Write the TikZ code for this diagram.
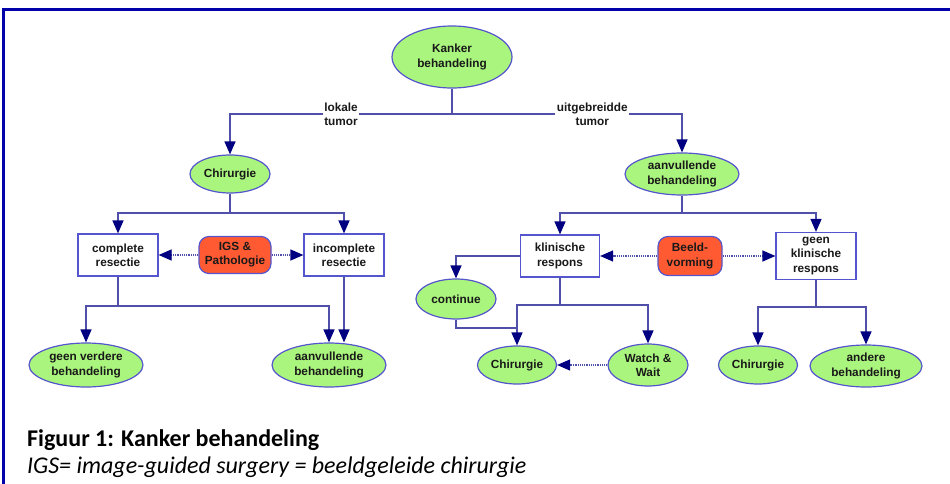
\documentclass[tikz,border=0pt]{standalone}
\usepackage{fontspec}
\setmainfont{Liberation Sans}
\newfontfamily\capfont{Carlito}
\usetikzlibrary{arrows.meta,shapes.geometric}
\definecolor{fillgreen}{RGB}{170,245,125}
\definecolor{edgeblue}{RGB}{85,85,205}
\definecolor{linec}{RGB}{80,80,170}
\definecolor{navyc}{RGB}{0,0,128}
\definecolor{redbox}{RGB}{255,90,50}
\definecolor{framec}{RGB}{0,0,170}
\begin{document}
\begin{tikzpicture}[x=1pt,y=-1pt,
 every node/.style={font=\fontsize{11.8}{14.2}\selectfont\bfseries, align=center, text=black!90},
 ell/.style={ellipse, draw=edgeblue, fill=fillgreen, line width=1.2pt, inner sep=0pt},
 boxn/.style={rectangle, draw=edgeblue, fill=white, line width=1.2pt, inner sep=0pt},
 redn/.style={rectangle, rounded corners=10pt, draw=edgeblue, fill=redbox, line width=1.2pt, inner sep=0pt},
 conn/.style={draw=linec, line width=1.3pt},
 arr/.style={conn, -{Triangle[length=13pt,width=11pt,color=navyc]}},
 dotarr/.style={draw=linec, line width=1.2pt, densely dotted, -{Triangle[length=13pt,width=11pt,color=navyc]}},
 lab/.style={fill=white, inner sep=1.5pt}]
\useasboundingbox (0,0) rectangle (950,484);
% frame
\draw[framec, line width=3pt] (3,490) -- (3,9.5) -- (955,9.5);

% nodes
\node[ell, minimum width=120pt, minimum height=62pt] (kb) at (452,57) {Kanker\\behandeling};
\node[ell, minimum width=80pt, minimum height=38pt] (chirL) at (230,174) {Chirurgie};
\node[ell, minimum width=114pt, minimum height=42pt] (aanvR) at (682,174) {aanvullende\\behandeling};

\node[boxn, minimum width=80pt, minimum height=42pt] (cr) at (118,255) {complete\\resectie};
\node[boxn, minimum width=80pt, minimum height=42pt] (ir) at (344,255) {incomplete\\resectie};
\node[redn, minimum width=72pt, minimum height=37pt] (igs) at (235,255) {IGS \&\\Pathologie};

\node[ell, minimum width=114pt, minimum height=44pt] (gv) at (86,365) {geen verdere\\behandeling};
\node[ell, minimum width=114pt, minimum height=44pt] (aanvL) at (329,365) {aanvullende\\behandeling};

\node[boxn, minimum width=79pt, minimum height=42pt] (kr) at (560,256) {klinische\\respons};
\node[redn, minimum width=64pt, minimum height=39pt] (bv) at (690,256) {Beeld-\\vorming};
\node[boxn, minimum width=80pt, minimum height=47pt] (gkr) at (816,256) {geen\\klinische\\respons};

\node[ell, minimum width=80pt, minimum height=40pt] (cont) at (456,299) {continue};
\node[ell, minimum width=79pt, minimum height=38pt] (chirM) at (517,365) {Chirurgie};
\node[ell, minimum width=80pt, minimum height=42pt] (ww) at (648,365) {Watch \&\\Wait};
\node[ell, minimum width=79pt, minimum height=38pt] (chirR) at (758,365) {Chirurgie};
\node[ell, minimum width=112pt, minimum height=42pt] (andere) at (866,366) {andere\\behandeling};

% junctions
\coordinate (jA) at (452,114);
\coordinate (jB) at (230,213);
\coordinate (jC) at (118,306);
\coordinate (jD) at (682,213);
\coordinate (jE) at (560,305);
\coordinate (jF) at (517,328);
\coordinate (jG) at (816,307);

% connectors
\draw[conn] (kb) -- (jA);
\draw[arr] (jA) -| node[lab, pos=0.25] {lokale\\tumor} (chirL);
\draw[arr] (jA) -| node[lab, pos=0.305] {uitgebreidde\\tumor} (aanvR);

\draw[conn] (chirL) -- (jB);
\draw[arr] (jB) -| (cr);
\draw[arr] (jB) -| (ir);
\draw[dotarr] (igs) -- (cr);
\draw[dotarr] (igs) -- (ir);

\draw[conn] (cr) -- (jC);
\draw[arr] (jC) -| (gv);
\draw[arr] (jC) -| (aanvL);
\draw[arr] (ir.south) -- (ir.south |- aanvL.north);

\draw[conn] (aanvR) -- (jD);
\draw[arr] (jD) -| (kr);
\draw[arr] (jD) -| (gkr);
\draw[dotarr] (bv) -- (kr);
\draw[dotarr] (bv) -- (gkr);

\draw[arr] (kr.west) -| (cont);
\draw[conn] (kr) -- (jE);
\draw[arr] (jE) -| (chirM);
\draw[arr] (jE) -| (ww);
\draw[conn] (cont) |- (jF);
\draw[dotarr] (ww) -- (chirM);

\draw[conn] (gkr) -- (jG);
\draw[arr] (jG) -| (chirR);
\draw[arr] (jG) -| (andere);

% caption
\node[anchor=base west, inner sep=0pt, font=\capfont\fontsize{24}{27}\selectfont\bfseries, text=black] (cap1) at (27,446) {Figuur 1: Kanker behandeling};
\node[anchor=base west, inner sep=0pt, font=\capfont\fontsize{24}{27}\selectfont\itshape, text=black] (cap2) at (27,473) {IGS= image-guided surgery = beeldgeleide chirurgie};
\end{tikzpicture}
\end{document}
